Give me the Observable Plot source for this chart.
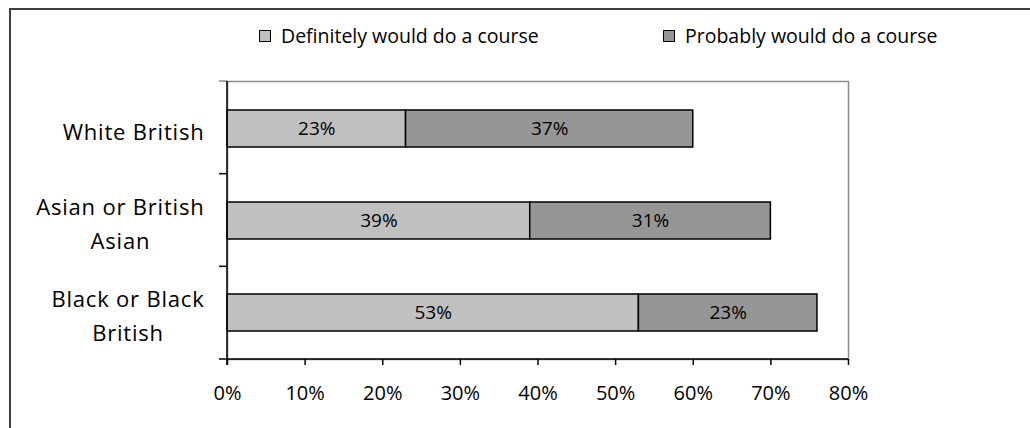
<!DOCTYPE html>
<html>
<head>
<meta charset="utf-8">
<script src="https://cdn.jsdelivr.net/npm/d3@7"></script>
<script src="https://cdn.jsdelivr.net/npm/@observablehq/plot@0.6"></script>
<style>
  html, body { margin: 0; padding: 0; background: #fff; overflow: hidden; }
  #chart { position: relative; width: 1030px; height: 428px; overflow: hidden; font-family: "Open Sans", sans-serif; color: #000; }
  #frame { position: absolute; left: 9px; top: 8px; width: 1060px; height: 460px; border: 2px solid #404040; box-sizing: border-box; pointer-events: none; }
  #legend { height: 60px; box-sizing: border-box; padding-top: 12px; padding-left: 259px; display: flex; font-size: 19.5px; line-height: 26px; }
  .item { display: flex; align-items: center; width: 404px; flex: none; }
  .swatch { width: 10px; height: 10px; border: 1.5px solid #000; margin-right: 10px; flex: none; }
  #plot svg { display: block; }
</style>
</head>
<body>
<div id="chart">
  <div id="legend"></div>
  <div id="plot"></div>
  <div id="frame"></div>
</div>
<script>
// Ethnic groups (top to bottom) and their axis labels
const groups = ["White British", "Asian or British Asian", "Black or Black British"];
const groupLabels = ["White British", "Asian or British\nAsian", "Black or Black\nBritish"];

// Two stacked response series, percent of respondents
const seriesNames = ["Definitely would do a course", "Probably would do a course"];
const definitely = [23, 39, 53];
const probably = [37, 31, 23];
const seriesColors = ["#c0c0c0", "#969696"];

// Percent ticks on the horizontal axis
const xTicks = [0, 10, 20, 30, 40, 50, 60, 70, 80];

// Long-format table for the stacked bars
const rows = [];
groups.forEach((g, i) => {
  rows.push({group: g, series: seriesNames[0], value: definitely[i]});
  rows.push({group: g, series: seriesNames[1], value: probably[i]});
});
const labelOf = new Map(groups.map((g, i) => [g, groupLabels[i]]));

// Legend
const legend = d3.select("#legend");
seriesNames.forEach((name, i) => {
  const item = legend.append("div").attr("class", "item");
  item.append("div").attr("class", "swatch").style("background", seriesColors[i]);
  item.append("span").text(name);
});

// Short tick marks at the boundaries between category bands, plus the two axis lines
function axisFrame(index, scales, values, dims) {
  const {width, height, marginLeft, marginRight, marginTop, marginBottom} = dims;
  const top = marginTop, bottom = height - marginBottom;
  const left = marginLeft, right = width - marginRight;
  const n = groups.length;
  const g = d3.create("svg:g").attr("stroke", "#000").attr("stroke-width", 1.5).attr("fill", "none");
  for (let i = 0; i <= n; i++) {
    const y = top + (bottom - top) * i / n;
    g.append("line").attr("x1", left - 8).attr("x2", left).attr("y1", y).attr("y2", y)
      .attr("stroke", i === 0 ? "#8c8c8c" : "#000");
  }
  g.append("line").attr("x1", left).attr("x2", left).attr("y1", top).attr("y2", bottom + 6);
  g.append("line").attr("x1", left).attr("x2", right).attr("y1", bottom).attr("y2", bottom);
  return g.node();
}

const chart = Plot.plot({
  width: 1030,
  height: 368,
  marginTop: 21,
  marginBottom: 69,
  marginLeft: 227,
  marginRight: 182,
  style: {fontFamily: "Open Sans, sans-serif", fontSize: "20px", color: "#000", background: "#fff"},
  x: {domain: [0, 80], label: null},
  y: {domain: groups, paddingInner: 0.6, paddingOuter: 0.3, label: null},
  color: {domain: seriesNames, range: seriesColors},
  marks: [
    Plot.frame({stroke: "#8c8c8c", strokeWidth: 1.5}),
    Plot.barX(rows, Plot.stackX({x: "value", y: "group", fill: "series", order: seriesNames, stroke: "#000", strokeWidth: 1.5})),
    Plot.text(rows, Plot.stackX({x: "value", y: "group", z: "series", order: seriesNames, text: d => d.value + "%", fontSize: 19, fill: "#000"})),
    Plot.axisX({ticks: xTicks, tickFormat: d => d + "%", tickSize: 6, tickPadding: 20, fontSize: 20, stroke: "#000", strokeWidth: 1.5, label: null}),
    Plot.axisY({tickSize: 0, tickPadding: 23, tickFormat: d => labelOf.get(d), fontSize: 22, lineHeight: 1.55, label: null}),
    axisFrame
  ]
});
document.getElementById("plot").appendChild(chart);

// Category labels use a slightly open letter spacing
const yLabels = d3.select(chart).selectAll('g[aria-label="y-axis tick label"] text').style("letter-spacing", "0.8px");

// Center the lines of each multi-line category label within its right-aligned block
yLabels.each(function () {
  const spans = d3.select(this).selectAll("tspan");
  if (spans.size() < 2) return;
  let w = 0;
  spans.each(function () { w = Math.max(w, this.getComputedTextLength()); });
  d3.select(this).attr("text-anchor", "middle");
  spans.attr("x", -w / 2);
});
</script>
</body>
</html>
